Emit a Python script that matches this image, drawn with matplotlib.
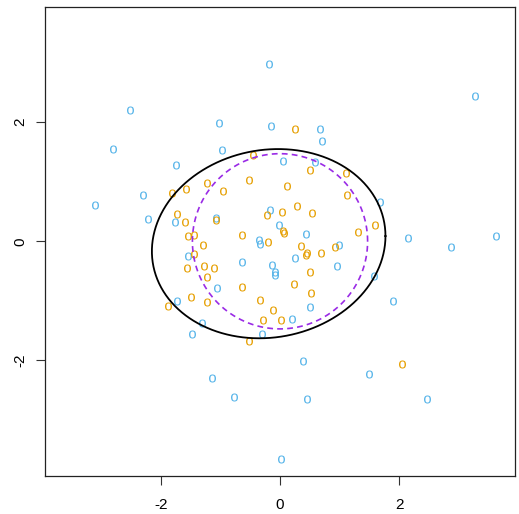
import numpy as np
import matplotlib
matplotlib.use("Agg")
import matplotlib.pyplot as plt

plt.rcParams['font.family'] = ['Liberation Sans', 'DejaVu Sans']
plt.rcParams['mathtext.fontset'] = 'custom'
plt.rcParams['mathtext.rm'] = 'Liberation Sans'

# group 1 (blue)
blue_x = [-2.52, -1.02, -2.80, -0.98, -1.74, -2.30, -3.10, -2.22, -1.76, -1.07,
          -0.36, -0.34, -1.55, -0.64, -1.05, -1.72, -1.31, -1.47, -0.31, -1.14,
          -0.78, -0.19, 3.28, -0.15, 0.67, 0.70, 0.05, 0.59, 1.67, -0.16,
          -0.01, 0.43, 2.15, 3.62, 2.87, 0.99, 0.25, -0.13, -0.09, -0.08,
          0.96, 1.58, 1.90, 0.51, 0.20, 0.38, 1.49, 0.46, 2.46, 0.02]
blue_y = [2.20, 1.98, 1.55, 1.53, 1.28, 0.78, 0.61, 0.37, 0.33, 0.39,
          0.02, -0.04, -0.25, -0.35, -0.78, -1.00, -1.37, -1.56, -1.55, -2.29,
          -2.61, 2.97, 2.44, 1.93, 1.89, 1.69, 1.34, 1.33, 0.66, 0.53,
          0.27, 0.12, 0.06, 0.09, -0.09, -0.06, -0.28, -0.39, -0.52, -0.56,
          -0.41, -0.59, -1.00, -1.10, -1.30, -2.01, -2.23, -2.65, -2.65, -3.65]

# group 2 (orange)
orange_x = [-0.45, -1.22, -0.52, -0.95, -1.81, -1.58, -1.72, -1.60, -1.07, -1.55,
            -1.44, -0.63, -1.30, -0.20, -0.21, 0.25, 0.50, 1.10, 0.11, 1.12,
            0.28, 0.04, 0.53, 0.05, 0.06, 1.31, 1.59, 0.36, 0.92, 0.43,
            0.46, 0.68, -1.45, -1.56, -1.28, -1.11, -1.23, -0.63, -1.50, -1.88,
            -1.23, -0.33, -0.29, -0.52, -0.12, 0.51, 0.23, 0.52, 0.01, 2.04]
orange_y = [1.44, 0.98, 1.03, 0.84, 0.81, 0.88, 0.45, 0.33, 0.36, 0.09,
            0.11, 0.11, -0.06, -0.02, 0.44, 1.89, 1.20, 1.14, 0.92, 0.78,
            0.60, 0.49, 0.48, 0.17, 0.14, 0.16, 0.27, -0.08, -0.10, -0.23,
            -0.20, -0.20, -0.21, -0.45, -0.42, -0.44, -0.60, -0.77, -0.93, -1.08,
            -1.02, -0.98, -1.32, -1.68, -1.15, -0.51, -0.72, -0.87, -1.32, -2.06]

# ellipses
emp_center = [-0.19, -0.04]
emp_shape = [[3.84, 0.25], [0.25, 2.52]]
ref_center = [0.0, 0.0]
ref_radius = 1.47

tick_vals = [-2, 0, 2]

fig = plt.figure(figsize=(5.19, 5.14), dpi=100)
ax = fig.add_axes([45.3 / 519, 1 - 475.7 / 514, (514.7 - 45.3) / 519, (475.7 - 6.7) / 514])

mk = r'$\mathrm{o}$'
ax.plot(blue_x, blue_y, linestyle='none', marker=mk, markersize=5.8,
        color='#56B4E9', markeredgewidth=0.0)
ax.plot(orange_x, orange_y, linestyle='none', marker=mk, markersize=5.8,
        color='#E69F00', markeredgewidth=0.0)

t = np.linspace(0, 2 * np.pi, 400)
L = np.linalg.cholesky(np.array(emp_shape))
pts = L @ np.vstack([np.cos(t), np.sin(t)])
ax.plot(pts[0] + emp_center[0], pts[1] + emp_center[1], color='black', lw=1.3)

ax.plot(ref_center[0] + ref_radius * np.cos(t), ref_center[1] + ref_radius * np.sin(t),
        color='#9A2BE6', lw=1.2, linestyle=(0, (3.5, 2.5)))

ax.set_xlim(-3.938, 3.938)
ax.set_ylim(-3.933, 3.936)
ax.set_xticks(tick_vals)
ax.set_yticks(tick_vals)
ax.set_xticklabels([str(v) for v in tick_vals])
ax.set_yticklabels([str(v) for v in tick_vals], rotation=90, va='center')
ax.tick_params(axis='both', length=6.7, width=0.8, labelsize=11, color='#333333')
ax.tick_params(axis='x', pad=9)
ax.tick_params(axis='y', pad=6)
for s in ax.spines.values():
    s.set_linewidth(0.9)
    s.set_color('#222222')

fig.savefig('out.png', dpi=100)
